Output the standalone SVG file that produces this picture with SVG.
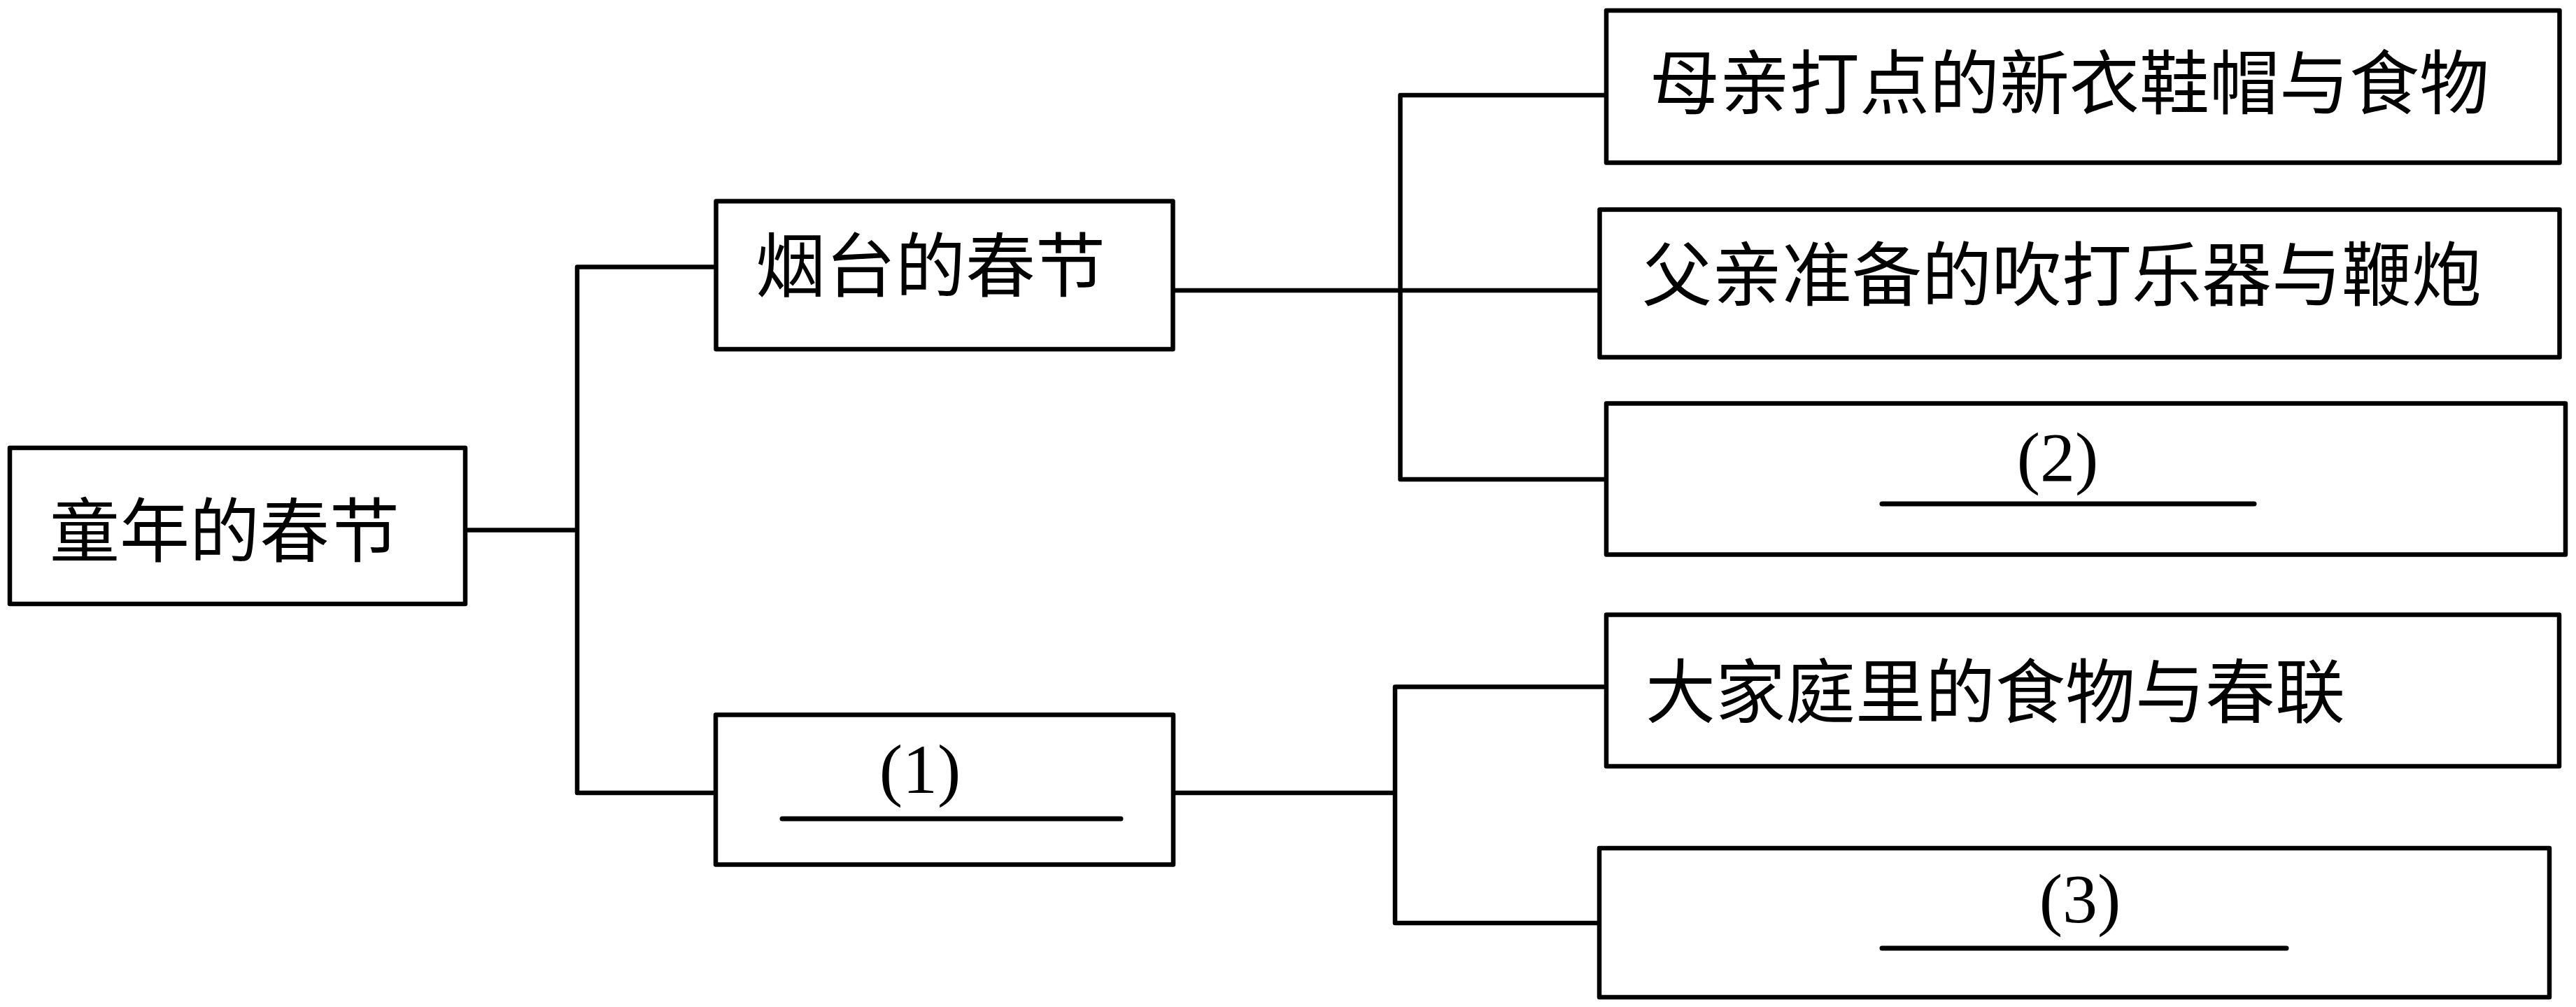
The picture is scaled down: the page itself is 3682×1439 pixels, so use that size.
<svg xmlns="http://www.w3.org/2000/svg" width="3682" height="1439" viewBox="0 0 3682 1439">
<style>
.box{fill:#fff;stroke:#000;stroke-width:6.5;stroke-linejoin:round}
.ln{fill:none;stroke:#000;stroke-width:6.5;stroke-linejoin:round;stroke-linecap:butt}
.ul{stroke:#000;stroke-width:7;stroke-linecap:round}
.cjk{font-family:"Liberation Serif","Noto Sans CJK SC",serif;font-size:100px;fill:#000}
.num{font-family:"Liberation Serif",serif;font-size:100px;fill:#000;text-anchor:middle}
</style>
<rect width="3682" height="1439" fill="#fff"/>
<g id="connectors">
<path class="ln" d="M665,757.5 H825"/>
<path class="ln" d="M1023.5,381.5 H825 V1133 H1023"/>
<path class="ln" d="M1676.5,415 H2286.5"/>
<path class="ln" d="M2296,136 H2001.5 V685 H2296"/>
<path class="ln" d="M1677,1133 H1994"/>
<path class="ln" d="M2296,981.5 H1994 V1319 H2286"/>
</g>
<g id="root">
<rect class="box" x="14" y="640" width="651" height="223"/>
<text class="cjk" x="71" y="795">童年的春节</text>
</g>
<g id="yantai">
<rect class="box" x="1023.5" y="287.5" width="653" height="211.5"/>
<text class="cjk" x="1080" y="416">烟台的春节</text>
</g>
<g id="blank1">
<rect class="box" x="1023" y="1021.5" width="654" height="214"/>
<text class="num" x="1315" y="1133">(1)</text>
<line class="ul" x1="1118" y1="1170" x2="1602" y2="1170"/>
</g>
<g id="mother">
<rect class="box" x="2296" y="15" width="1362.5" height="217.5"/>
<text class="cjk" x="2358" y="155">母亲打点的新衣鞋帽与食物</text>
</g>
<g id="father">
<rect class="box" x="2286.5" y="299.5" width="1372" height="211"/>
<text class="cjk" x="2347" y="429">父亲准备的吹打乐器与鞭炮</text>
</g>
<g id="blank2">
<rect class="box" x="2296" y="576.5" width="1371" height="216"/>
<text class="num" x="2941" y="687">(2)</text>
<line class="ul" x1="2690" y1="720" x2="3222" y2="720"/>
</g>
<g id="family">
<rect class="box" x="2296" y="878.5" width="1362" height="216.5"/>
<text class="cjk" x="2352" y="1025">大家庭里的食物与春联</text>
</g>
<g id="blank3">
<rect class="box" x="2286" y="1212" width="1358" height="213"/>
<text class="num" x="2973" y="1318">(3)</text>
<line class="ul" x1="2690" y1="1355" x2="3268" y2="1355"/>
</g>
</svg>
